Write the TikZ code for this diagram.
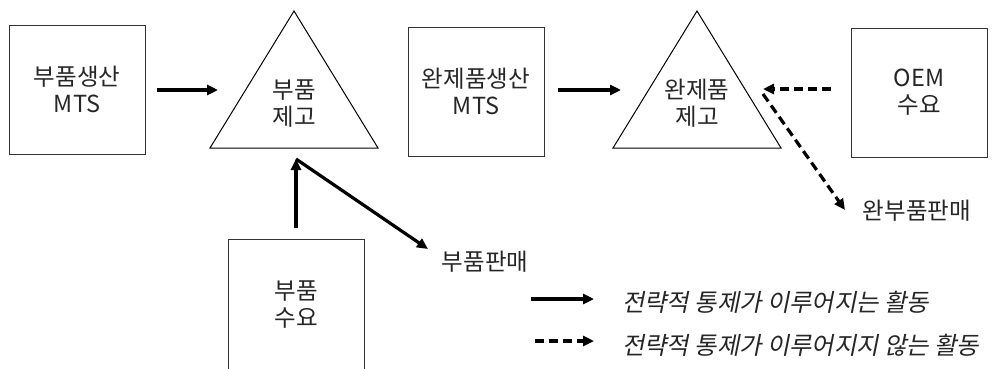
\documentclass[tikz,border=0pt]{standalone}
\usepackage{fontspec}
\setmainfont{Noto Sans CJK KR}
\newfontfamily\cjkit[FakeSlant=0.2]{Noto Sans CJK KR}
\usetikzlibrary{arrows.meta}
\begin{document}
\begin{tikzpicture}[x=1pt,y=-1pt,
  box/.style={draw=black!80,line width=1pt,minimum width=136pt,minimum height=129pt,inner sep=0pt,align=center,font=\fontsize{23.5}{27}\selectfont,text=black!85},
  lbl/.style={inner sep=0pt,align=center,font=\fontsize{23.5}{27}\selectfont,text=black!85},
  legtext/.style={inner sep=0pt,anchor=west,font=\cjkit\fontsize{24.3}{27}\selectfont,text=black!85},
  tri/.style={draw=black,line width=1pt,line join=miter},
  solidarr/.style={line width=3.2pt,-{Triangle[length=11pt,width=10pt]}},
  dasharr/.style={solidarr,dash pattern=on 9pt off 5pt},
]
\path[use as bounding box] (0,0) rectangle (992,368);
\clip (0,0) rectangle (992,368);

% boxes
\node[box] (b1) at (77,89.5) {부품생산\\MTS};
\node[box] (b2) at (476,91.5) {완제품생산\\MTS};
\node[box] (b3) at (919,92.5) {OEM\\수요};
\node[box,minimum height=131pt] (b4) at (296,304.5) {부품\\수요};

% triangles
\coordinate (t1a) at (294,11);
\coordinate (t1l) at (210,148);
\coordinate (t1r) at (378,148);
\draw[tri] (t1l) -- (t1a) -- (t1r) -- cycle;
\node[lbl] (t1) at (294,104) {부품\\제고};

\coordinate (t2a) at (697,11);
\coordinate (t2l) at (613,148);
\coordinate (t2r) at (781,148);
\draw[tri] (t2l) -- (t2a) -- (t2r) -- cycle;
\node[lbl] (t2) at (697,103) {완제품\\제고};

% labels
\node[lbl] (s1) at (485,262) {부품판매};
\node[lbl] (s2) at (917,211) {완부품판매};

% connector end points
\coordinate (a1s) at (157,90);
\coordinate (a1e) at (218,90);
\coordinate (a2s) at (558,90);
\coordinate (a2e) at (621,90);
\coordinate (vs) at (296,228);
\coordinate (j) at (296,159);
\coordinate (de) at (428,249);
\coordinate (os) at (831,89);
\coordinate (oe) at (763,89);
\coordinate (ps) at (763,94);
\coordinate (pe) at (845,210);

\draw[solidarr] (a1s) -- (a1e);
\draw[solidarr] (a2s) -- (a2e);
\draw[solidarr] (vs) -- (j);
\draw[solidarr] (j) -- (de);
\draw[dasharr] (os) -- (oe);
\draw[dasharr] (ps) -- (pe);

% legend
\coordinate (l1s) at (531,299);
\coordinate (l1e) at (594,299);
\coordinate (l2s) at (535,341);
\coordinate (l2e) at (594,341);
\draw[solidarr] (l1s) -- (l1e);
\draw[dasharr] (l2s) -- (l2e);
\node[legtext] (lt1) at (622,302) {전략적 통제가 이루어지는 활동};
\node[legtext] (lt2) at (622,345) {전략적 통제가 이루어지지 않는 활동};
\end{tikzpicture}
\end{document}
